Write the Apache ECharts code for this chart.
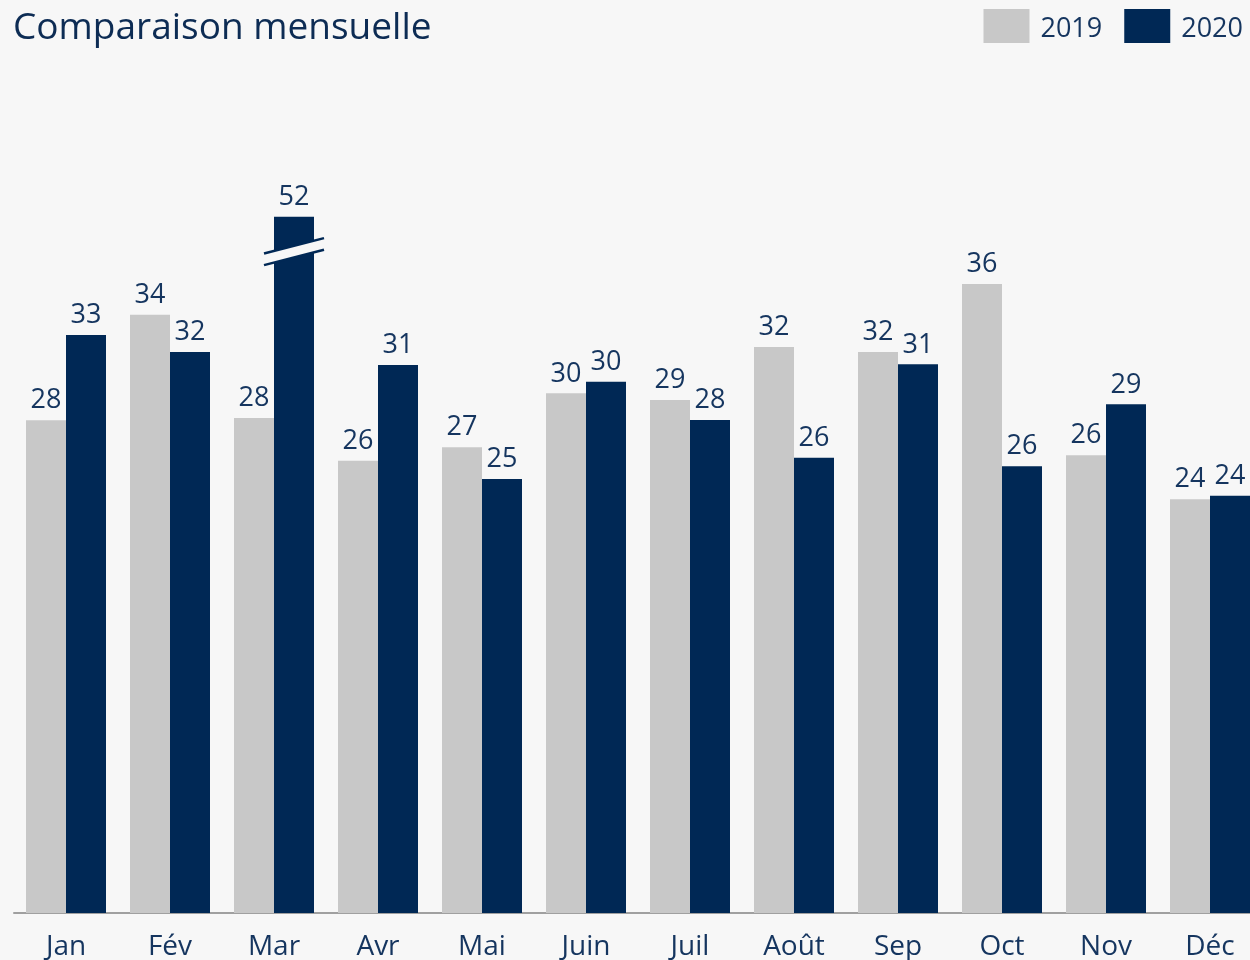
<!DOCTYPE html>
<html>
<head>
<meta charset="utf-8">
<title>Comparaison mensuelle</title>
<script src="https://cdn.jsdelivr.net/npm/echarts@6/dist/echarts.min.js"></script>
<style>
  html, body { margin: 0; padding: 0; background: #f7f7f7; }
  #chart { width: 1250px; height: 960px; }
</style>
</head>
<body>
<div id="chart"></div>
<script>
  // données
  var months = ['Jan', 'Fév', 'Mar', 'Avr', 'Mai', 'Juin', 'Juil', 'Août', 'Sep', 'Oct', 'Nov', 'Déc']
  var values2019 = [28.24, 34.29, 28.37, 25.92, 26.69, 29.78, 29.40, 32.44, 32.15, 36.05, 26.23, 23.71]
  var values2020 = [33.12, 32.15, 52, 31.40, 24.87, 30.45, 28.25, 26.09, 31.44, 25.60, 29.15, 23.91]

  var CAP = 39.9       // hauteur max affichée (barre coupée au-dessus)
  var BREAK_AT = 37.9  // position de la coupure

  var navy = '#002855'
  var grey = '#c8c8c8'
  var textColor = '#15355f'
  var font = 'Open Sans'

  var shown2020 = values2020.map(function (v) { return Math.min(v, CAP) })
  var breaks = []
  values2020.forEach(function (v, i) { if (v > CAP) breaks.push([i, BREAK_AT]) })

  var chart = echarts.init(document.getElementById('chart'))
  chart.setOption({
    backgroundColor: '#f7f7f7',
    animation: false,
    title: {
      text: 'Comparaison mensuelle',
      left: 8,
      top: 5,
      textStyle: { fontFamily: font, fontSize: 37, fontWeight: 'normal', color: '#0d2c54' }
    },
    legend: {
      data: ['2019', '2020'],
      right: 2,
      top: 4,
      itemWidth: 46,
      itemHeight: 34,
      itemGap: 22,
      icon: 'rect',
      formatter: '{t|{name}}',
      textStyle: {
        rich: {
          t: { fontFamily: font, fontSize: 27, color: textColor, padding: [7, 0, 0, 6] }
        }
      }
    },
    grid: { left: 14, right: -12, top: 40.5, bottom: 47, outerBoundsMode: 'none' },
    xAxis: {
      type: 'category',
      data: months,
      axisTick: { show: false },
      axisLine: { lineStyle: { color: '#a0a0a0', width: 2 } },
      axisLabel: { fontFamily: font, fontSize: 28, color: textColor, margin: 20 }
    },
    yAxis: { type: 'value', min: 0, max: 50, show: false, splitLine: { show: false } },
    series: [
      {
        name: '2019',
        type: 'bar',
        data: values2019,
        barWidth: 40,
        barGap: '0%',
        itemStyle: { color: grey },
        label: {
          show: true, position: 'top', distance: 6,
          fontFamily: font, fontSize: 27, color: textColor,
          formatter: function (p) { return Math.round(values2019[p.dataIndex]) }
        }
      },
      {
        name: '2020',
        type: 'bar',
        data: shown2020,
        barWidth: 40,
        itemStyle: { color: navy },
        label: {
          show: true, position: 'top', distance: 6,
          fontFamily: font, fontSize: 27, color: textColor,
          formatter: function (p) { return Math.round(values2020[p.dataIndex]) }
        }
      },
      {
        // marque de coupure sur la barre trop haute
        type: 'custom',
        data: breaks,
        z: 10,
        clip: false,
        silent: true,
        renderItem: function (params, api) {
          var p = api.coord([api.value(0), api.value(1)])
          var cx = p[0] + 20
          var cy = p[1]
          var hw = 30, slope = 0.257, off = 5.8
          var yl = cy + hw * slope, yr = cy - hw * slope
          return {
            type: 'group',
            children: [
              {
                type: 'polygon',
                shape: { points: [[cx - hw, yl - off], [cx + hw, yr - off], [cx + hw, yr + off], [cx - hw, yl + off]] },
                style: { fill: '#f7f7f7' }
              },
              {
                type: 'line',
                shape: { x1: cx - hw, y1: yl - off, x2: cx + hw, y2: yr - off },
                style: { stroke: navy, lineWidth: 2.5 }
              },
              {
                type: 'line',
                shape: { x1: cx - hw, y1: yl + off, x2: cx + hw, y2: yr + off },
                style: { stroke: navy, lineWidth: 2.5 }
              }
            ]
          }
        }
      }
    ]
  })
</script>
</body>
</html>
